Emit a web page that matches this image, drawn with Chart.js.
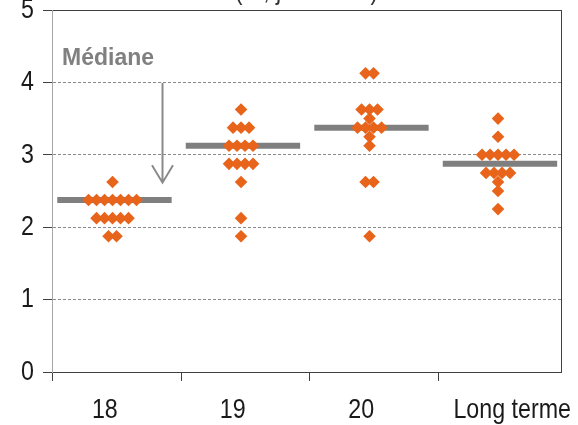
<!DOCTYPE html>
<html>
<head>
<meta charset="utf-8">
<script src="https://cdn.jsdelivr.net/npm/chart.js@4.4.1/dist/chart.umd.min.js"></script>
<style>
  html, body { margin: 0; padding: 0; background: #ffffff; }
  canvas { display: block; }
</style>
</head>
<body>
<canvas id="chart" width="578" height="425"></canvas>
<script>
// Participants' projections (%), one dot per participant
const categories = ['18', '19', '20', 'Long terme'];
const dots18 = [2.625, 2.375, 2.375, 2.375, 2.375, 2.375, 2.375, 2.375, 2.125, 2.125, 2.125, 2.125, 2.125, 1.875, 1.875];
const dots19 = [3.625, 3.375, 3.375, 3.375, 3.125, 3.125, 3.125, 3.125, 2.875, 2.875, 2.875, 2.875, 2.625, 2.125, 1.875];
const dots20 = [4.125, 4.125, 3.625, 3.625, 3.625, 3.5, 3.375, 3.375, 3.375, 3.375, 3.25, 3.125, 2.625, 2.625, 1.875];
const dotsLongRun = [3.5, 3.25, 3.0, 3.0, 3.0, 3.0, 3.0, 2.75, 2.75, 2.75, 2.75, 2.625, 2.5, 2.25];
const medians = [2.375, 3.125, 3.375, 2.875];
const yTickValues = [0, 1, 2, 3, 4, 5];
const titleText = '(%, juin 2018)';
const medianLabel = 'Médiane';

const allDots = [dots18, dots19, dots20, dotsLongRun];

// Styling
const ORANGE = '#E8641B';
const MEDIAN_GREY = '#7f7f7f';
const DARK = '#404040';
const SANS = "'Liberation Sans', Arial, sans-serif";
const CONDENSE = 0.83;         // narrow rendering of axis texts
const CAT_PX = 128.5;          // width of one category in pixels
const DOT_GAP = 8 / CAT_PX;    // horizontal step between equal dots (category units)
const X_MIN = 0.529, X_MAX = 4.49;

// Spread identical values side by side around the category centre
function swarm(values, center) {
  const counts = {};
  values.forEach(v => { counts[v] = (counts[v] || 0) + 1; });
  const seen = {};
  return values.map(v => {
    seen[v] = seen[v] === undefined ? 0 : seen[v] + 1;
    return { x: center + (seen[v] - (counts[v] - 1) / 2) * DOT_GAP, y: v };
  });
}

const dotData = [];
allDots.forEach((vals, i) => dotData.push(...swarm(vals, i + 1)));

const datasets = [{
  label: 'points',
  data: dotData,
  pointStyle: 'rectRot',
  pointRadius: 6.3,
  pointHoverRadius: 6.3,
  backgroundColor: ORANGE,
  borderColor: ORANGE,
  borderWidth: 0,
  order: 0
}];
medians.forEach((m, i) => {
  datasets.push({
    label: 'median ' + categories[i],
    data: [{ x: i + 1 + 0.015 - 0.445, y: m }, { x: i + 1 + 0.015 + 0.445, y: m }],
    showLine: true,
    borderColor: MEDIAN_GREY,
    borderWidth: 6,
    borderCapStyle: 'butt',
    pointRadius: 0,
    pointHoverRadius: 0,
    order: 1
  });
});

// tick marks between categories, labels under each group
const boundaryTicks = [X_MIN, 1.533, 2.533, 3.533];
const labelTicks = [0.94, 1.935, 2.935, 4.11];
const boundarySet = new Set(boundaryTicks);

// axis texts are drawn condensed (narrow face look)
const narrowAxisText = {
  id: 'narrowAxisText',
  beforeDraw(chart) {
    const ctx = chart.ctx;
    const orig = CanvasRenderingContext2D.prototype.fillText;
    ctx.fillText = function (t, x, y, mw) {
      const w = this.measureText(t).width * CONDENSE;
      return orig.call(this, t, x, y, mw !== undefined ? Math.min(mw, w) : w);
    };
  },
  beforeDatasetsDraw(chart) {
    delete chart.ctx.fillText;
  }
};

const decorations = {
  id: 'decorations',
  afterDraw(chart) {
    const { ctx, chartArea, scales } = chart;
    const xs = scales.x, ys = scales.y;
    ctx.save();
    // right frame edge
    ctx.strokeStyle = DARK;
    ctx.lineWidth = 1;
    ctx.beginPath();
    ctx.moveTo(Math.round(chartArea.right) + 0.5, chartArea.top);
    ctx.lineTo(Math.round(chartArea.right) + 0.5, chartArea.bottom);
    ctx.stroke();

    // title above the frame
    ctx.fillStyle = '#333333';
    ctx.font = '28px ' + SANS;
    ctx.textAlign = 'center';
    ctx.textBaseline = 'alphabetic';
    ctx.fillText(titleText, (chartArea.left + chartArea.right) / 2, -1,
                 ctx.measureText(titleText).width * CONDENSE);

    // median callout
    ctx.fillStyle = '#808080';
    ctx.font = "bold 23px " + SANS;
    ctx.textAlign = 'left';
    ctx.fillText(medianLabel, xs.getPixelForValue(0.607), ys.getPixelForValue(4.24));

    const ax = Math.round(xs.getPixelForValue(1.3875)) + 0.5;
    const ay0 = ys.getPixelForValue(3.99);
    const ay1 = ys.getPixelForValue(2.615);
    ctx.strokeStyle = '#8a8a8a';
    ctx.lineWidth = 2;
    ctx.beginPath();
    ctx.moveTo(ax, ay0);
    ctx.lineTo(ax, ay1);
    ctx.moveTo(ax - 10.5, ay1 - 17.5);
    ctx.lineTo(ax, ay1);
    ctx.lineTo(ax + 10.5, ay1 - 17.5);
    ctx.stroke();
    ctx.restore();
  }
};

new Chart(document.getElementById('chart'), {
  type: 'scatter',
  data: { datasets },
  options: {
    responsive: false,
    animation: false,
    devicePixelRatio: 1,
    layout: { padding: { left: 0, top: 10, right: 17, bottom: 0 } },
    plugins: { legend: { display: false }, tooltip: { enabled: false } },
    scales: {
      x: {
        type: 'linear',
        min: X_MIN,
        max: X_MAX,
        afterBuildTicks(scale) {
          scale.ticks = boundaryTicks.concat(labelTicks).sort((a, b) => a - b).map(v => ({ value: v }));
        },
        afterFit(scale) {
          scale.height = 53;
          scale.paddingLeft = 0; scale.paddingRight = 0;
        },
        ticks: {
          autoSkip: false,
          maxRotation: 0,
          padding: 12,
          color: '#1a1a1a',
          font: { family: SANS, size: 28 },
          callback: (v) => {
            const i = labelTicks.indexOf(v);
            return i >= 0 ? categories[i] : '';
          }
        },
        grid: {
          drawOnChartArea: false,
          drawTicks: true,
          tickLength: 9,
          tickWidth: 1,
          tickColor: (c) => (c.tick && boundarySet.has(c.tick.value)) ? DARK : 'rgba(0,0,0,0)'
        },
        border: { display: true, color: DARK, width: 1 }
      },
      y: {
        min: 0,
        max: 5,
        afterBuildTicks(scale) {
          scale.ticks = yTickValues.map(v => ({ value: v }));
        },
        afterFit(scale) {
          scale.width = 52;
          scale.paddingTop = 0; scale.paddingBottom = 0;
        },
        ticks: {
          padding: 9,
          color: '#1a1a1a',
          font: { family: SANS, size: 28 }
        },
        grid: {
          drawOnChartArea: true,
          drawTicks: true,
          tickLength: 9,
          tickWidth: 1,
          tickColor: DARK,
          tickBorderDash: [],
          lineWidth: 1,
          color: (c) => {
            const v = c.tick ? c.tick.value : null;
            if (v === 5) return DARK;
            if (v === 0) return 'rgba(0,0,0,0)';
            return '#8a8a8a';
          }
        },
        border: {
          display: true,
          color: '#a6a6a6',
          width: 1,
          dash: (c) => (c.tick && c.tick.value > 0 && c.tick.value < 5) ? [3, 2] : []
        }
      }
    }
  },
  plugins: [narrowAxisText, decorations]
});
</script>
</body>
</html>
